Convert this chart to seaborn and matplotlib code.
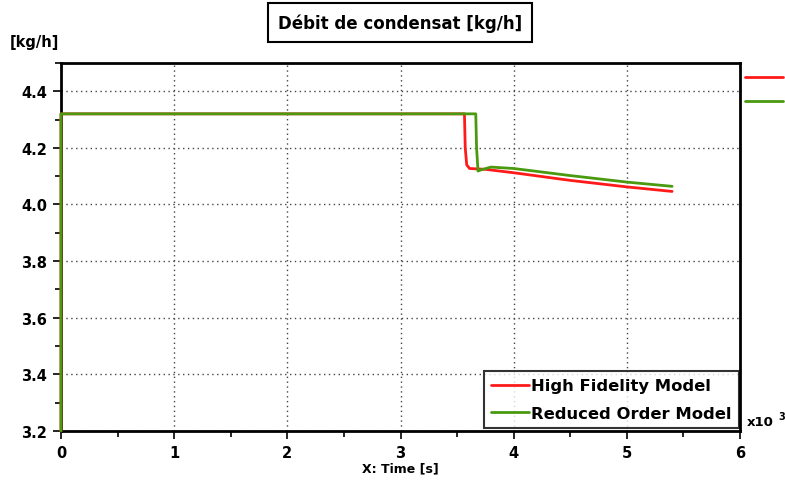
import matplotlib
matplotlib.use("Agg")
from matplotlib import pyplot as plt
from matplotlib.lines import Line2D
from matplotlib.ticker import MultipleLocator
import seaborn as sns
import pandas as pd

# temps en milliers de secondes (axe "x10 3")
t_hf = [0.0, 0.0, 3.565, 3.572, 3.585, 3.61, 3.75, 4.0, 4.5, 5.0, 5.4]
q_hf = [3.2, 4.32, 4.32, 4.20, 4.14, 4.127, 4.124, 4.112, 4.085, 4.062, 4.046]
t_rom = [0.0, 0.0, 3.665, 3.672, 3.685, 3.71, 3.8, 4.0, 4.5, 5.0, 5.4]
q_rom = [3.2, 4.32, 4.32, 4.20, 4.118, 4.122, 4.132, 4.127, 4.102, 4.079, 4.064]
series = ["High Fidelity Model", "Reduced Order Model"]
colors = ["#ff1a1a", "#4a9a10"]

df = pd.concat([
    pd.DataFrame({"t": t_hf, "q": q_hf, "model": series[0]}),
    pd.DataFrame({"t": t_rom, "q": q_rom, "model": series[1]}),
])

sns.set_style("white")
plt.rcParams['font.family'] = ['DejaVu Sans']
plt.rcParams['font.weight'] = 'bold'
plt.rcParams['text.color'] = 'black'
plt.rcParams['xtick.color'] = 'black'
plt.rcParams['ytick.color'] = 'black'
plt.rcParams['axes.labelcolor'] = 'black'

fig = plt.figure(figsize=(7.85, 4.85), dpi=100)
ax = fig.add_axes([0.0777, 0.1093, 0.865, 0.759])

sns.lineplot(data=df, x="t", y="q", hue="model", palette=colors, sort=False,
             estimator=None, linewidth=2, ax=ax, legend=False)
for ln in ax.get_lines():
    ln.set_clip_on(False)
    ln.set_zorder(4)

ax.set_xlim(0, 6)
ax.set_ylim(3.2, 4.5)
ax.xaxis.set_major_locator(MultipleLocator(1))
ax.xaxis.set_minor_locator(MultipleLocator(0.5))
ax.set_yticks([3.2, 3.4, 3.6, 3.8, 4.0, 4.2, 4.4])
ax.yaxis.set_minor_locator(MultipleLocator(0.1))
ax.grid(True, which="major", linestyle=(0, (1, 2.5)), color="#444444", linewidth=1)
ax.tick_params(which="major", direction="out", length=6, width=1.2, labelsize=10.5, pad=4)
ax.tick_params(which="minor", direction="out", length=4, width=1.2)
ax.tick_params(axis="y", which="both", left=True)
ax.tick_params(axis="x", which="both", bottom=True)
for lab in ax.get_xticklabels() + ax.get_yticklabels():
    lab.set_fontweight("bold")
for sp in ax.spines.values():
    sp.set_linewidth(2)
    sp.set_color("black")
    sp.set_zorder(3)
ax.set_xlabel("X: Time [s]", fontsize=9, fontweight="bold", labelpad=1)
ax.set_ylabel("")

handles = [Line2D([], [], color=c, linewidth=2) for c in colors]
leg = ax.legend(handles, series, loc="lower right", bbox_to_anchor=(0.9985, 0.008),
                frameon=True, fancybox=False, edgecolor="black",
                prop={"weight": "bold", "size": 11.8}, handlelength=2.3,
                handletextpad=0.15, borderpad=0.45, labelspacing=0.75, borderaxespad=0)
leg.get_frame().set_linewidth(1.5)
leg.set_zorder(5)

fig.text(0.51, 0.952, "Débit de condensat [kg/h]", ha="center", va="center",
         fontsize=12, fontweight="bold",
         bbox=dict(boxstyle="square,pad=0.6", facecolor="white", edgecolor="black", linewidth=1.5))
fig.text(0.013, 0.912, "[kg/h]", ha="left", va="center", fontsize=10.5, fontweight="bold")
fig.text(0.951, 0.128, "x10", ha="left", va="center", fontsize=9.5, fontweight="bold")
fig.text(0.992, 0.14, "3", ha="left", va="center", fontsize=7, fontweight="bold")

# repères à droite du cadre
fig.add_artist(Line2D([0.949, 0.998], [0.839, 0.839], color=colors[0], linewidth=2))
fig.add_artist(Line2D([0.949, 0.998], [0.79, 0.79], color=colors[1], linewidth=2))

fig.savefig("out.png", dpi=100)
